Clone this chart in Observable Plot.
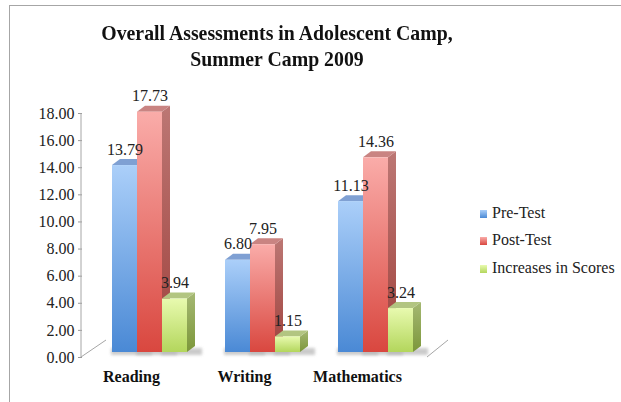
<!DOCTYPE html>
<html>
<head>
<meta charset="utf-8">
<script src="https://cdn.jsdelivr.net/npm/d3@7"></script>
<script src="https://cdn.jsdelivr.net/npm/@observablehq/plot@0.6"></script>
<style>
  html, body { margin: 0; padding: 0; background: #fff; }
  #wrap { position: relative; width: 621px; height: 402px; overflow: hidden; background: #fff; font-family: "Liberation Serif", serif; color: #222; }
  #frame { position: absolute; left: 9px; top: 5px; width: 800px; height: 600px; border-left: 1px solid #a6a6a6; border-top: 1px solid #a6a6a6; }
  #title { position: absolute; left: 0; top: 20px; width: 554px; text-align: center; font-weight: bold; font-size: 22px; line-height: 26px; transform: scaleX(0.9); transform-origin: 277px 0; color: #111; }
  #chart { position: absolute; left: 0; top: 88px; }
  .lg { position: absolute; left: 480px; font-size: 16px; line-height: 20px; white-space: nowrap; }
  .lg i { display: inline-block; width: 7px; height: 8px; margin-right: 5px; vertical-align: 0px; }
</style>
</head>
<body>
<div id="wrap">
  <div id="frame"></div>
  <div id="title">Overall Assessments in Adolescent Camp,<br>Summer Camp 2009</div>
  <div id="chart"></div>
  <div id="legend"></div>
</div>
<script>
const categories = ["Reading", "Writing", "Mathematics"];
const seriesNames = ["Pre-Test", "Post-Test", "Increases in Scores"];
const preTest = [13.79, 6.80, 11.13];
const postTest = [17.73, 7.95, 14.36];
const increases = [3.94, 1.15, 3.24];
const yTicks = [0, 2, 4, 6, 8, 10, 12, 14, 16, 18];

const seriesValues = [preTest, postTest, increases];
const table = categories.flatMap((cat, i) =>
  seriesNames.map((s, j) => ({cat, series: s, value: seriesValues[j][i]})));

// styles for the faux-3D faces
const frontStops = [["#abcff9", "#4a89d5"], ["#faaca9", "#d9473f"], ["#e8faaf", "#b3d65c"]];
const sideStops = [["#6f92c6", "#3f6fae"], ["#bc7774", "#a0423d"], ["#a5b873", "#7c973a"]];
const topFill = ["#7fa0d3", "#c98482", "#b2c581"];
const D = 8, E = 6;

const fmt = d3.format(".2f");
const NS = "http://www.w3.org/2000/svg";
function poly(pts, fill) {
  const p = document.createElementNS(NS, "polygon");
  p.setAttribute("points", pts.map(q => q.join(",")).join(" "));
  p.setAttribute("fill", fill);
  return p;
}

const plot = Plot.plot({
  width: 621,
  height: 314,
  marginTop: 25,
  marginBottom: 45,
  marginLeft: 81,
  marginRight: 178,
  style: {fontFamily: "'Liberation Serif', serif", fontSize: "16px", color: "#222", background: "transparent", overflow: "visible"},
  fx: {domain: categories, paddingInner: 0.329, paddingOuter: 0.254},
  x: {domain: seriesNames, padding: 0, axis: null},
  y: {domain: [0, 18]},
  color: {domain: seriesNames, range: ["url(#front0)", "url(#front1)", "url(#front2)"]},
  marks: [
    Plot.axisY({ticks: yTicks, tickFormat: fmt, tickSize: 4, tickPadding: 4, dx: -29, stroke: "#999", color: "#222", label: null, fontSize: 16}),
    Plot.axisFx({anchor: "bottom", tickSize: 0, tickPadding: 13, dx: -18, label: null, fontWeight: "bold", fontSize: 16, color: "#111"}),
    Plot.barY(table, {
      fx: "cat", x: "series", y: "value", fill: "series", dy: -5,
      render(index, scales, values, dimensions, context, next) {
        const g = next(index, scales, values, dimensions, context);
        const rects = Array.from(g.querySelectorAll("rect"));
        const first = rects[0];
        rects.forEach((r, k) => {
          const d = table[index[k]];
          const si = seriesNames.indexOf(d.series);
          const x = +r.getAttribute("x"), y = +r.getAttribute("y");
          const w = +r.getAttribute("width"), h = +r.getAttribute("height");
          const sh = poly([[x - 1, y + h - E + 2], [x + w + D + 7, y + h - E + 2], [x + w + D + 7, y + h + 3], [x - 1, y + h + 3]], "#b5b5b5");
          sh.setAttribute("filter", "url(#shadowBlur)");
          sh.setAttribute("opacity", "0.7");
          g.insertBefore(sh, first);
          g.insertBefore(poly([[x + w, y], [x + w + D, y - E], [x + w + D, y + h - E], [x + w, y + h]], `url(#side${si})`), r);
          g.insertBefore(poly([[x, y], [x + D, y - E], [x + w + D, y - E], [x + w, y]], topFill[si]), r);
        });
        return g;
      }
    }),
    Plot.text(table, {fx: "cat", x: "series", y: "value", text: d => fmt(d.value), dy: -21, fontSize: 16, fill: "#222"})
  ]
});

// gradients and blur
const svg = d3.select(plot);
const defs = svg.insert("defs", ":first-child");
function grad(id, stops) {
  const lg = defs.append("linearGradient").attr("id", id).attr("x1", 0).attr("y1", 0).attr("x2", 0).attr("y2", 1);
  lg.append("stop").attr("offset", "0%").attr("stop-color", stops[0]);
  lg.append("stop").attr("offset", "100%").attr("stop-color", stops[1]);
}
frontStops.forEach((s, i) => grad("front" + i, s));
sideStops.forEach((s, i) => grad("side" + i, s));
defs.append("filter").attr("id", "shadowBlur").attr("x", "-20%").attr("y", "-100%").attr("width", "140%").attr("height", "300%")
  .append("feGaussianBlur").attr("stdDeviation", 1.6);

// axis line and floor edges, positioned from the plot's own scales
const yS = plot.scale("y"), fxS = plot.scale("fx");
const y0 = yS.apply(0), yTop = yS.apply(18);
const [r0, r1] = fxS.range;
const deco = svg.append("g").attr("stroke", "#a6a6a6").attr("fill", "none");
deco.append("line").attr("x1", r0).attr("x2", r0).attr("y1", yTop).attr("y2", y0);
deco.append("line").attr("x1", r0).attr("y1", y0).attr("x2", r0 + 25).attr("y2", y0 - 17);
deco.append("line").attr("x1", r1 - 16).attr("y1", y0).attr("x2", r1 + 5).attr("y2", y0 - 17);

document.getElementById("chart").appendChild(plot);

// legend
const legend = document.getElementById("legend");
const lgTops = [202.6, 230.1, 257.6];
seriesNames.forEach((s, i) => {
  const div = document.createElement("div");
  div.className = "lg";
  div.style.top = lgTops[i] + "px";
  const sw = document.createElement("i");
  sw.style.background = `linear-gradient(${frontStops[i][0]}, ${frontStops[i][1]})`;
  div.appendChild(sw);
  div.appendChild(document.createTextNode(s));
  legend.appendChild(div);
});
</script>
</body>
</html>
